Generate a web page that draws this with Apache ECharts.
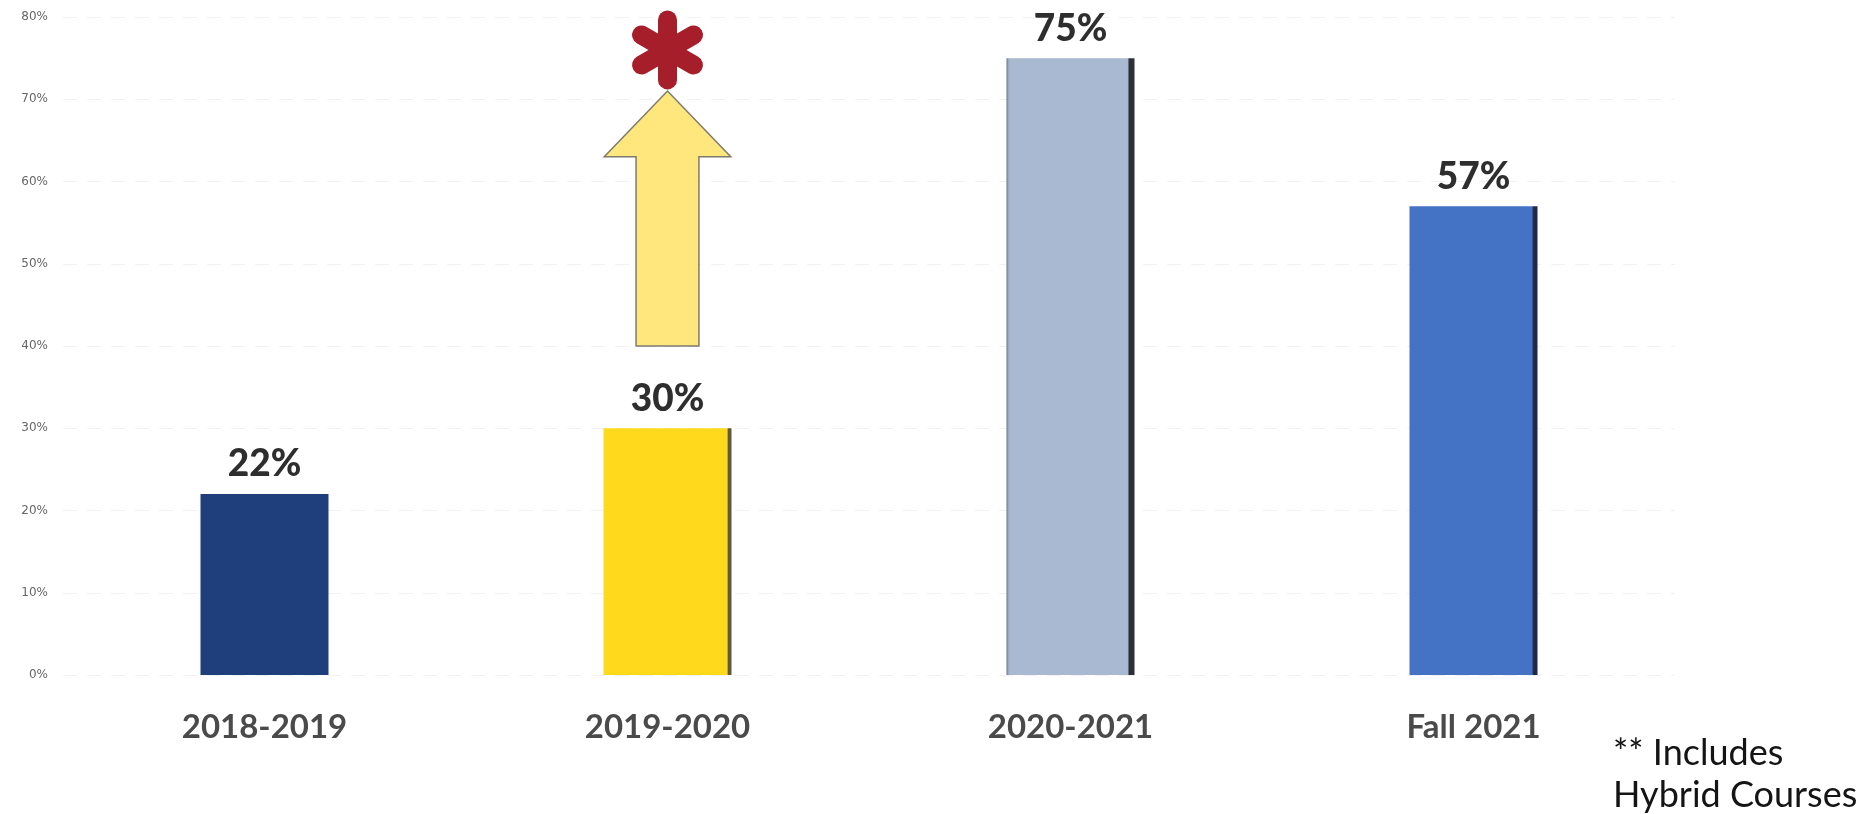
<!DOCTYPE html>
<html>
<head>
<meta charset="utf-8">
<script src="https://cdn.jsdelivr.net/npm/echarts@6/dist/echarts.min.js"></script>
<style>
  html, body { margin: 0; padding: 0; background: #ffffff; }
  #chart { width: 1869px; height: 814px; }
</style>
</head>
<body>
<div id="chart"></div>
<script>
// Share of courses per academic year (percent)
const categories = ['2018-2019', '2019-2020', '2020-2021', 'Fall 2021'];
const shares = [22, 30, 75, 57];

// Value axis range and step (percent)
const axisMin = 0;
const axisMax = 80;
const axisStep = 10;

// Upward arrow over 2019-2020: [category, base, head base, tip] in percent
const arrowSpan = ['2019-2020', 40, 63, 71];
// Asterisk marker centre: [category, level in percent]
const starMark = ['2019-2020', 76];

// Footnote lines
const noteLines = ['** Includes', 'Hybrid Courses'];

const G = echarts.graphic;
const barFills = [
  '#1F3F7C',
  new G.LinearGradient(0, 0, 1, 0, [
    { offset: 0, color: '#FFD91C' }, { offset: 0.965, color: '#FFD91C' },
    { offset: 0.975, color: '#5f5a3c' }, { offset: 1, color: '#5f5a3c' }
  ]),
  new G.LinearGradient(0, 0, 1, 0, [
    { offset: 0, color: '#6d7480' }, { offset: 0.015, color: '#9aaac2' },
    { offset: 0.03, color: '#A9B9D1' }, { offset: 0.945, color: '#A9B9D1' },
    { offset: 0.96, color: '#2e3038' }, { offset: 1, color: '#2e3038' }
  ]),
  new G.LinearGradient(0, 0, 1, 0, [
    { offset: 0, color: '#4472C4' }, { offset: 0.955, color: '#4472C4' },
    { offset: 0.97, color: '#1f2a44' }, { offset: 1, color: '#1f2a44' }
  ])
];

const barData = shares.map((v, i) => ({ value: v, itemStyle: { color: barFills[i] } }));

const chart = echarts.init(document.getElementById('chart'), null, { renderer: 'canvas' });

chart.setOption({
  backgroundColor: '#ffffff',
  animation: false,
  grid: { left: 63, right: 194, top: 17, bottom: 139 },
  xAxis: {
    type: 'category',
    data: categories,
    axisLine: { show: false },
    axisTick: { show: false },
    axisLabel: {
      margin: 36,
      fontFamily: 'Lato',
      fontWeight: 'bold',
      fontSize: 33,
      color: '#4a4a4a'
    }
  },
  yAxis: {
    type: 'value',
    min: axisMin,
    max: axisMax,
    interval: axisStep,
    axisLine: { show: false },
    axisTick: { show: false },
    splitLine: { lineStyle: { color: '#f1f1f1', type: [14, 10], width: 1 } },
    axisLabel: {
      formatter: '{value}%',
      margin: 15,
      fontFamily: 'DejaVu Sans',
      fontSize: 12,
      color: '#666666'
    }
  },
  series: [
    {
      type: 'bar',
      data: barData,
      barWidth: 128,
      label: {
        show: true,
        position: 'top',
        distance: 11,
        formatter: '{c}%',
        fontFamily: 'Lato',
        fontWeight: 900,
        fontSize: 37,
        color: '#2e2e2e'
      },
      z: 3
    },
    {
      type: 'custom',
      data: [[categories.indexOf(arrowSpan[0]), arrowSpan[1], arrowSpan[2], arrowSpan[3]]],
      encode: { x: 0, y: [1, 2, 3] },
      renderItem: function (params, api) {
        const band = api.size([1, 0])[0];
        const headHalf = band * 0.157;
        const shaftHalf = band * 0.078;
        const base = api.coord([api.value(0), api.value(1)]);
        const neck = api.coord([api.value(0), api.value(2)]);
        const tip = api.coord([api.value(0), api.value(3)]);
        const cx = base[0];
        return {
          type: 'polygon',
          shape: {
            points: [
              [cx - shaftHalf, base[1]],
              [cx - shaftHalf, neck[1]],
              [cx - headHalf, neck[1]],
              [cx, tip[1]],
              [cx + headHalf, neck[1]],
              [cx + shaftHalf, neck[1]],
              [cx + shaftHalf, base[1]]
            ]
          },
          style: { fill: '#FFE77D', stroke: '#7d7b70', lineWidth: 1.5 }
        };
      },
      z: 4
    },
    {
      type: 'custom',
      data: [[categories.indexOf(starMark[0]), starMark[1]]],
      encode: { x: 0, y: 1 },
      renderItem: function (params, api) {
        const c = api.coord([api.value(0), api.value(1)]);
        const arm = 30;
        const children = [90, 30, 150].map(function (deg) {
          const r = deg * Math.PI / 180;
          const dx = Math.cos(r) * arm, dy = Math.sin(r) * arm;
          return {
            type: 'line',
            shape: { x1: c[0] - dx, y1: c[1] - dy, x2: c[0] + dx, y2: c[1] + dy },
            style: { stroke: '#A61E2A', lineWidth: 19, lineCap: 'round' }
          };
        });
        return { type: 'group', children: children };
      },
      z: 4
    }
  ],
  graphic: [
    {
      type: 'text',
      left: 1613,
      top: 732,
      style: {
        text: noteLines.join('\n'),
        font: '36px Lato',
        lineHeight: 42,
        fill: '#141414'
      }
    }
  ]
});
</script>
</body>
</html>
